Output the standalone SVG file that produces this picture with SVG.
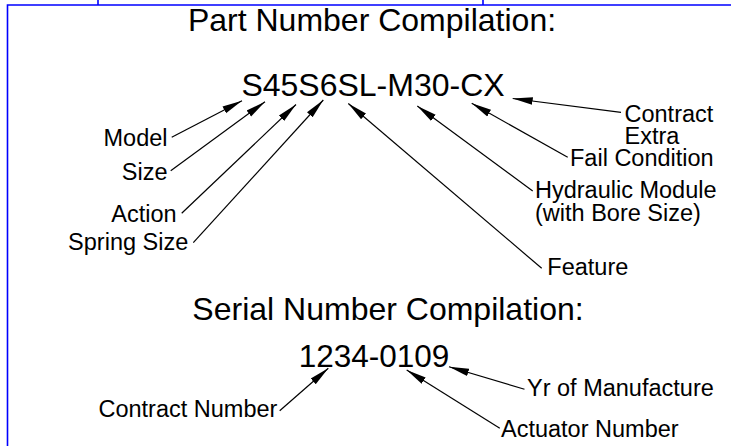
<svg xmlns="http://www.w3.org/2000/svg" width="731" height="446" viewBox="0 0 731 446">
<style>
.frame{stroke:#0000ff;stroke-width:1.6;fill:none}
.big{font-family:"Liberation Sans",Arial,sans-serif;font-size:32px;fill:#000}
.lbl{font-family:"Liberation Sans",Arial,sans-serif;font-size:23.5px;fill:#000}
.ld{stroke:#000;stroke-width:1.2;fill:none;marker-end:url(#ah)}
</style>
<defs>
<marker id="ah" markerUnits="userSpaceOnUse" markerWidth="22" markerHeight="10" refX="20" refY="0" viewBox="0 -5 22 10" orient="auto">
<path d="M0,-3.8 L20,0 L0,3.8 z" fill="#000"/>
</marker>
</defs>
<rect width="731" height="446" fill="#fff"/>
<g id="frame">
<path class="frame" d="M7.5,446 V5 H731 M98,0 V5 M483,0 V5"/>
</g>
<g id="titles">
<text class="big" x="372" y="31" text-anchor="middle">Part Number Compilation:</text>
<text class="big" x="373" y="95.5" text-anchor="middle">S45S6SL-M30-CX</text>
<text class="big" x="388" y="320" text-anchor="middle">Serial Number Compilation:</text>
<text class="big" x="374" y="367" text-anchor="middle" style="font-size:31.5px">1234-0109</text>
</g>
<g id="n-model"><text class="lbl" x="167.5" y="146" text-anchor="end">Model</text></g>
<g id="n-size"><text class="lbl" x="167.5" y="180" text-anchor="end">Size</text></g>
<g id="n-action"><text class="lbl" x="176.7" y="221.7" text-anchor="end">Action</text></g>
<g id="n-spring"><text class="lbl" x="188.3" y="249.5" text-anchor="end">Spring Size</text></g>
<g id="n-contract-extra"><text class="lbl" x="624.5" y="121.5">Contract</text><text class="lbl" x="624.5" y="144">Extra</text></g>
<g id="n-fail"><text class="lbl" x="570" y="165.5">Fail Condition</text></g>
<g id="n-hydraulic"><text class="lbl" x="535" y="198">Hydraulic Module</text><text class="lbl" x="535" y="221">(with Bore Size)</text></g>
<g id="n-feature"><text class="lbl" x="547.3" y="275">Feature</text></g>
<g id="n-yr"><text class="lbl" x="527" y="396">Yr of Manufacture</text></g>
<g id="n-contract-number"><text class="lbl" x="277.4" y="417" text-anchor="end">Contract Number</text></g>
<g id="n-actuator"><text class="lbl" x="501" y="436.5">Actuator Number</text></g>
<g id="connectors">
<line class="ld" x1="171.7" y1="137.3" x2="242" y2="100.7"/>
<line class="ld" x1="170.7" y1="170.7" x2="265" y2="101.7"/>
<line class="ld" x1="181.7" y1="213.3" x2="296" y2="104.5"/>
<line class="ld" x1="193.3" y1="242.7" x2="323.3" y2="100"/>
<line class="ld" x1="541.7" y1="268.3" x2="348.3" y2="103.5"/>
<line class="ld" x1="532.7" y1="191" x2="417.3" y2="106"/>
<line class="ld" x1="567.7" y1="157.3" x2="471.7" y2="103.3"/>
<line class="ld" x1="621" y1="112.3" x2="512.7" y2="98.5"/>
<line class="ld" x1="279.7" y1="410.7" x2="328.3" y2="368.3"/>
<line class="ld" x1="499.8" y1="428.3" x2="406.7" y2="370"/>
<line class="ld" x1="524.5" y1="389.3" x2="449" y2="366.7"/>
</g>
</svg>
